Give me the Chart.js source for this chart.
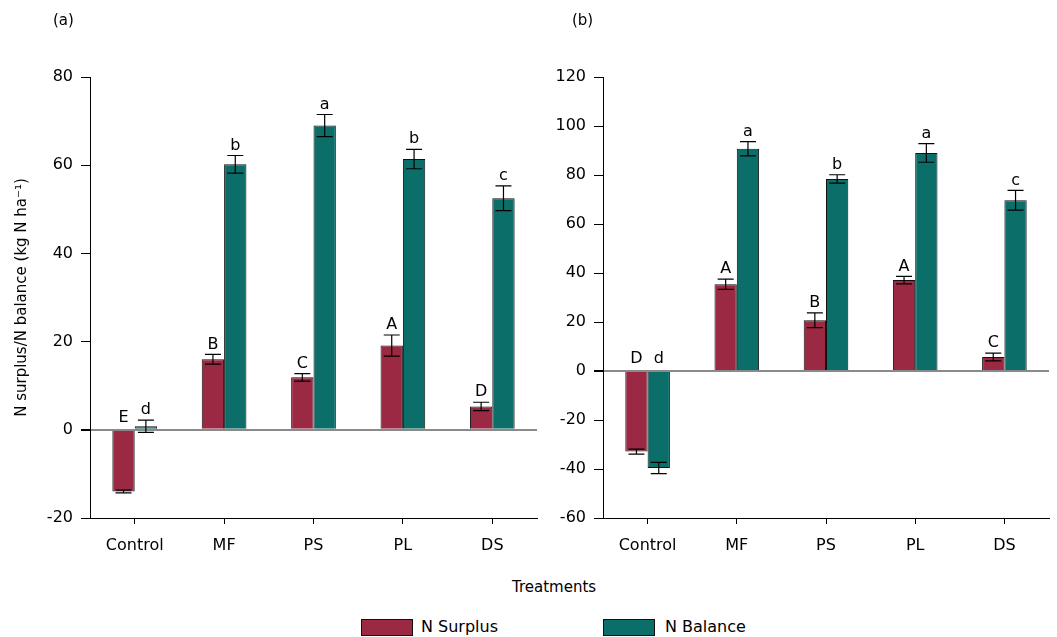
<!DOCTYPE html>
<html>
<head>
<meta charset="utf-8">
<script src="https://cdn.jsdelivr.net/npm/chart.js@4.4.1/dist/chart.umd.min.js"></script>
<style>
    body { margin: 0; background: #fff; font-family: 'DejaVu Sans', sans-serif; color: #000; }
    .wrap { position: relative; width: 1057px; height: 637px; overflow: hidden; }
    canvas { position: absolute; top: 0; }
    .lbl { position: absolute; font-size: 15px; white-space: nowrap; }
    .box { position: absolute; width: 50px; height: 15px; border: 1px solid #111; }
</style>
</head>
<body>
<div class="wrap">
    <canvas id="chartA" style="left:0px; width:545px; height:570px;" width="545" height="570"></canvas>
    <canvas id="chartB" style="left:545px; width:512px; height:570px;" width="512" height="570"></canvas>
    <div class="lbl" style="left:53px; top:11px;">(a)</div>
    <div class="lbl" style="left:572px; top:11px;">(b)</div>
    <div class="lbl" style="left:512px; top:578px;">Treatments</div>
    <div class="box" style="left:361px; top:619px; background:#9c2943;"></div>
    <div class="lbl" style="left:421px; top:617px; font-size:16px;">N Surplus</div>
    <div class="box" style="left:603px; top:619px; background:#0c6e68;"></div>
    <div class="lbl" style="left:665px; top:617px; font-size:16px;">N Balance</div>
</div>
<script>
const categories = ['Control', 'MF', 'PS', 'PL', 'DS'];

// (a)
const surplusA = [-14.0, 16.0, 11.9, 19.1, 5.3];
const surplusAErr = [0.3, 1.1, 0.85, 2.4, 0.95];
const surplusALetters = ['E', 'B', 'C', 'A', 'D'];
const balanceA = [0.8, 60.2, 69.0, 61.4, 52.5];
const balanceAErr = [1.4, 2.0, 2.5, 2.2, 2.8];
const balanceALetters = ['d', 'b', 'a', 'b', 'c'];

// (b)
const surplusB = [-32.9, 35.4, 20.7, 37.1, 5.7];
const surplusBErr = [1.0, 2.1, 3.0, 1.5, 1.6];
const surplusBLetters = ['D', 'A', 'B', 'A', 'C'];
const balanceB = [-39.6, 90.7, 78.4, 89.0, 69.7];
const balanceBErr = [2.3, 2.9, 1.7, 3.8, 4.0];
const balanceBLetters = ['d', 'a', 'b', 'a', 'c'];

const red = '#9c2943', teal = '#0c6e68';

Chart.defaults.font.family = "'DejaVu Sans', sans-serif";
Chart.defaults.font.size = 16;
Chart.defaults.color = '#000';

// error bars + significance letters
const errorBars = {
    id: 'errorBars',
    afterDatasetsDraw(chart) {
        const ctx = chart.ctx;
        const y = chart.scales.y;
        ctx.save();
        chart.data.datasets.forEach((ds, i) => {
            const meta = chart.getDatasetMeta(i);
            meta.data.forEach((bar, j) => {
                const v = ds.data[j], e = ds.err[j];
                const top = y.getPixelForValue(v + e);
                const bot = y.getPixelForValue(v - e);
                ctx.strokeStyle = '#000';
                ctx.lineWidth = 1.2;
                ctx.beginPath();
                ctx.moveTo(bar.x, top); ctx.lineTo(bar.x, bot);
                ctx.moveTo(bar.x - 8, top); ctx.lineTo(bar.x + 8, top);
                ctx.moveTo(bar.x - 8, bot); ctx.lineTo(bar.x + 8, bot);
                ctx.stroke();

                const base = v >= 0 ? top - 5 : y.getPixelForValue(0) - 7;
                ctx.fillStyle = '#000';
                ctx.font = "16px 'DejaVu Sans'";
                ctx.textAlign = 'center';
                ctx.textBaseline = 'bottom';
                ctx.fillText(ds.letters[j], bar.x, base + 3);
            });
        });
        ctx.restore();
    }
};

function makeChart(id, sData, sErr, sLet, bData, bErr, bLet, yMin, yMax, yWidth, yTitle) {
    let ct = document.getElementById(id).getContext('2d');
    return new Chart(ct, {
        type: 'bar',
        data: {
            labels: categories,
            datasets: [{
                label: 'N Surplus',
                data: sData,
                err: sErr,
                letters: sLet,
                backgroundColor: red,
                borderColor: '#111',
                borderWidth: 1
            }, {
                label: 'N Balance',
                data: bData,
                err: bErr,
                letters: bLet,
                backgroundColor: teal,
                borderColor: '#111',
                borderWidth: 1
            }]
        },
        options: {
            responsive: false,
            animation: false,
            layout: { padding: { left: 0, right: 8, top: 77, bottom: 12 } },
            datasets: { bar: { categoryPercentage: 0.5, barPercentage: 1.0 } },
            plugins: {
                legend: { display: false },
                tooltip: { enabled: false }
            },
            scales: {
                x: {
                    afterFit: s => { s.height = 40; },
                    border: { color: '#000', width: 1 },
                    grid: { drawOnChartArea: false, offset: false, color: '#000', tickLength: 6 },
                    ticks: { padding: 12, font: { size: 16 } }
                },
                y: {
                    min: yMin,
                    max: yMax,
                    afterFit: s => { s.width = yWidth; },
                    border: { color: '#000', width: 1 },
                    grid: {
                        drawOnChartArea: true,
                        color: c => (c.tick && c.tick.value === 0) ? '#8a8a8a' : 'rgba(0,0,0,0)',
                        lineWidth: c => (c.tick && c.tick.value === 0) ? 2 : 1,
                        tickColor: '#000',
                        tickLength: 9
                    },
                    ticks: { stepSize: 20, padding: 8, font: { size: 16 } },
                    title: {
                        display: yTitle !== '',
                        text: yTitle,
                        font: { size: 15 },
                        padding: { top: 13, bottom: 0 }
                    }
                }
            }
        },
        plugins: [errorBars]
    });
}

makeChart('chartA', surplusA, surplusAErr, surplusALetters, balanceA, balanceAErr, balanceALetters,
    -20, 80, 90, 'N surplus/N balance (kg N ha⁻¹)');
makeChart('chartB', surplusB, surplusBErr, surplusBLetters, balanceB, balanceBErr, balanceBLetters,
    -60, 120, 58, '');
</script>
</body>
</html>
